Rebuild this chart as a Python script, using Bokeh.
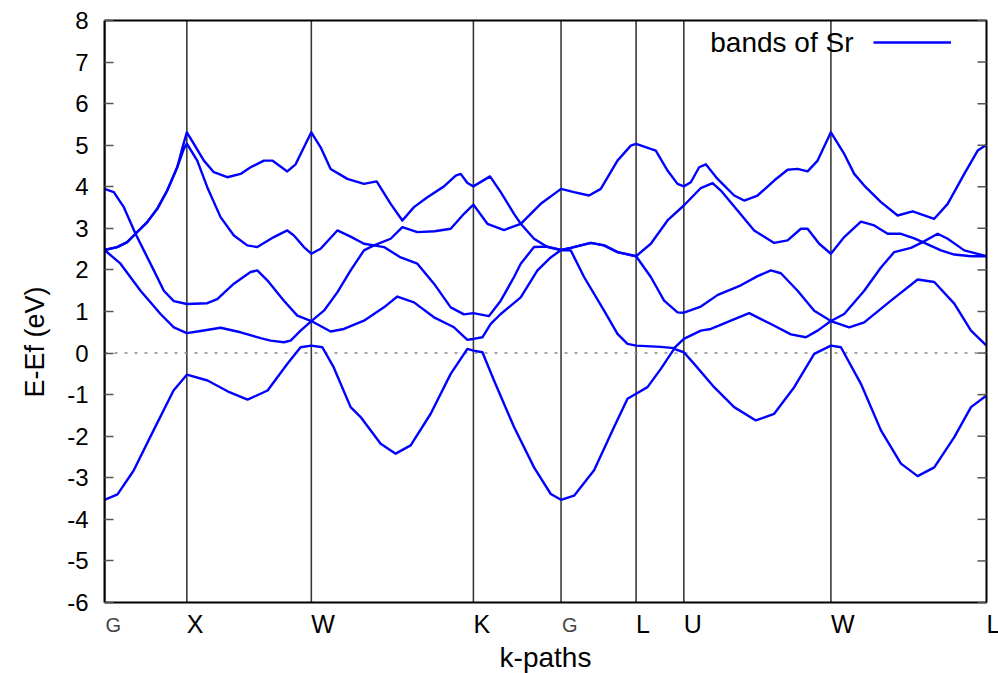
from bokeh.plotting import figure
from bokeh.models import (Label, Legend, LegendItem, FixedTicker, Range1d, Title,
                          ColumnDataSource)
from bokeh.embed import file_html
from bokeh.resources import INLINE

# ---------------- data ----------------
kpoint_labels = ["G", "X", "W", "K", "G", "L", "U", "W", "L"]
kpoint_pos = [0.0, 0.823, 2.067, 3.687, 4.563, 5.313, 5.790, 7.260, 8.815]
y_ticks = list(range(-6, 9))
y_min, y_max = -6, 8
fermi_level = 0.0

band1 = [(0, -3.53), (0.13, -3.40), (0.29, -2.83), (0.49, -1.86), (0.69, -0.90), (0.823, -0.52),
         (1.03, -0.66), (1.23, -0.92), (1.43, -1.12), (1.63, -0.90), (1.83, -0.25), (1.96, 0.14),
         (2.067, 0.18), (2.177, 0.14), (2.29, -0.34), (2.46, -1.30), (2.56, -1.54), (2.76, -2.18),
         (2.91, -2.42), (3.06, -2.22), (3.26, -1.46), (3.46, -0.50), (3.627, 0.10), (3.687, 0.06),
         (3.777, 0.02), (3.893, -0.66), (4.093, -1.78), (4.293, -2.75), (4.46, -3.39), (4.563, -3.53),
         (4.693, -3.43), (4.893, -2.82), (5.093, -1.78), (5.227, -1.10), (5.313, -0.98), (5.427, -0.82),
         (5.56, -0.38), (5.693, 0.10), (5.79, 0.02), (5.893, -0.26), (6.093, -0.82), (6.293, -1.30),
         (6.51, -1.62), (6.693, -1.46), (6.893, -0.82), (7.093, -0.02), (7.26, 0.18), (7.36, 0.14),
         (7.56, -0.74), (7.76, -1.86), (7.96, -2.66), (8.127, -2.96), (8.293, -2.75), (8.493, -2.02),
         (8.66, -1.30), (8.815, -1.02)]

band2 = [(0, 2.48), (0.16, 2.15), (0.36, 1.50), (0.56, 0.94), (0.693, 0.62), (0.823, 0.48),
         (0.96, 0.53), (1.16, 0.61), (1.36, 0.50), (1.56, 0.36), (1.66, 0.30), (1.793, 0.26),
         (1.86, 0.30), (1.96, 0.54), (2.067, 0.77), (2.26, 0.52), (2.393, 0.58), (2.593, 0.78),
         (2.793, 1.10), (2.927, 1.36), (3.093, 1.22), (3.293, 0.86), (3.493, 0.62), (3.627, 0.32),
         (3.687, 0.34), (3.777, 0.38), (3.86, 0.70), (3.96, 0.94), (4.16, 1.34), (4.327, 1.99),
         (4.46, 2.30), (4.563, 2.48), (4.66, 2.47), (4.793, 1.83), (4.993, 1.02), (5.127, 0.46),
         (5.227, 0.22), (5.313, 0.18), (5.56, 0.15), (5.693, 0.12), (5.79, 0.34), (5.96, 0.54),
         (6.06, 0.58), (6.26, 0.78), (6.443, 0.96), (6.66, 0.70), (6.86, 0.45), (7.01, 0.38),
         (7.127, 0.54), (7.26, 0.77), (7.443, 0.62), (7.593, 0.74), (7.86, 1.26), (8.127, 1.77),
         (8.293, 1.71), (8.493, 1.19), (8.66, 0.54), (8.815, 0.18)]

band3 = [(0, 2.48), (0.127, 2.55), (0.227, 2.67), (0.31, 2.87), (0.393, 2.47), (0.493, 1.99),
         (0.593, 1.50), (0.693, 1.25), (0.823, 1.18), (1.027, 1.20), (1.127, 1.30), (1.293, 1.67),
         (1.46, 1.95), (1.527, 1.99), (1.627, 1.75), (1.793, 1.26), (1.927, 0.90), (2.067, 0.77),
         (2.193, 1.02), (2.327, 1.46), (2.46, 1.99), (2.593, 2.47), (2.693, 2.59), (2.793, 2.55),
         (2.96, 2.30), (3.127, 2.15), (3.293, 1.67), (3.46, 1.10), (3.593, 0.93), (3.687, 0.96),
         (3.843, 0.89), (3.96, 1.26), (4.093, 1.83), (4.16, 2.15), (4.293, 2.55), (4.427, 2.56),
         (4.563, 2.48), (4.66, 2.53), (4.86, 2.65), (4.993, 2.59), (5.127, 2.43), (5.313, 2.33),
         (5.46, 1.83), (5.593, 1.26), (5.727, 0.98), (5.79, 0.97), (5.96, 1.12), (6.13, 1.40),
         (6.36, 1.63), (6.527, 1.85), (6.66, 1.99), (6.76, 1.92), (6.927, 1.50), (7.093, 1.02),
         (7.26, 0.77), (7.393, 0.94), (7.593, 1.50), (7.76, 2.06), (7.893, 2.43), (8.06, 2.53),
         (8.177, 2.67), (8.36, 2.47), (8.493, 2.37), (8.66, 2.33), (8.815, 2.33)]

band4 = [(0, 2.48), (0.127, 2.55), (0.227, 2.67), (0.31, 2.87), (0.427, 3.15), (0.527, 3.47),
         (0.627, 3.91), (0.727, 4.47), (0.793, 4.91), (0.823, 5.04), (0.927, 4.63), (1.027, 3.99),
         (1.16, 3.27), (1.293, 2.83), (1.427, 2.59), (1.527, 2.55), (1.693, 2.79), (1.827, 2.95),
         (1.893, 2.83), (1.993, 2.55), (2.067, 2.39), (2.16, 2.51), (2.327, 2.95), (2.46, 2.80),
         (2.593, 2.63), (2.693, 2.59), (2.86, 2.75), (2.977, 3.03), (3.127, 2.91), (3.30, 2.93),
         (3.46, 2.99), (3.593, 3.35), (3.687, 3.57), (3.827, 3.11), (3.993, 2.96), (4.16, 3.11),
         (4.293, 2.75), (4.427, 2.55), (4.563, 2.48), (4.66, 2.53), (4.86, 2.65), (4.993, 2.59),
         (5.127, 2.43), (5.313, 2.33), (5.46, 2.63), (5.627, 3.19), (5.79, 3.55), (5.96, 3.97),
         (6.077, 4.09), (6.16, 3.91), (6.327, 3.43), (6.493, 2.95), (6.693, 2.65), (6.827, 2.71),
         (6.96, 2.99), (7.027, 2.99), (7.143, 2.63), (7.26, 2.39), (7.393, 2.79), (7.56, 3.16),
         (7.693, 3.07), (7.827, 2.87), (7.96, 2.87), (8.093, 2.76), (8.177, 2.67), (8.327, 2.87),
         (8.427, 2.75), (8.593, 2.47), (8.815, 2.33)]

band5 = [(0, 3.95), (0.093, 3.87), (0.193, 3.51), (0.31, 2.87), (0.427, 3.15), (0.527, 3.47),
         (0.627, 3.91), (0.727, 4.47), (0.78, 4.95), (0.823, 5.31), (0.893, 5.03), (0.993, 4.63),
         (1.093, 4.35), (1.227, 4.23), (1.36, 4.31), (1.46, 4.47), (1.593, 4.63), (1.677, 4.63),
         (1.827, 4.37), (1.91, 4.54), (2.067, 5.31), (2.16, 4.95), (2.26, 4.43), (2.427, 4.19),
         (2.593, 4.07), (2.72, 4.13), (2.86, 3.59), (2.977, 3.19), (3.093, 3.51), (3.227, 3.75),
         (3.393, 4.01), (3.51, 4.27), (3.56, 4.31), (3.627, 4.09), (3.687, 4.01), (3.853, 4.25),
         (3.96, 3.87), (4.093, 3.35), (4.16, 3.11), (4.36, 3.59), (4.563, 3.95), (4.693, 3.87),
         (4.843, 3.79), (4.96, 3.95), (5.127, 4.63), (5.26, 4.99), (5.313, 5.03), (5.51, 4.87),
         (5.627, 4.39), (5.727, 4.07), (5.79, 4.01), (5.86, 4.11), (5.943, 4.47), (6.01, 4.54),
         (6.127, 4.19), (6.293, 3.79), (6.393, 3.67), (6.527, 3.79), (6.693, 4.15), (6.827, 4.41),
         (6.927, 4.43), (7.027, 4.37), (7.127, 4.63), (7.26, 5.31), (7.393, 4.79), (7.493, 4.31),
         (7.593, 4.03), (7.76, 3.63), (7.927, 3.31), (8.077, 3.41), (8.293, 3.23), (8.427, 3.59),
         (8.593, 4.31), (8.727, 4.87), (8.815, 5.01)]

bands = [band1, band2, band3, band4, band5]
legend_text = "bands of Sr"
x_title = "k-paths"
y_title = "E-Ef (eV)"

# ---------------- layout (pixels) ----------------
FONT = "Liberation Sans"
W, H = 998, 673
BOX_L, BOX_R, BOX_T, BOX_B = 104, 986, 20, 602   # the plot box as in the reference
FRAME_T = 10                                      # frame extends beyond the box so that
                                                  # labels under it are not clipped
ppu_x = (BOX_R - BOX_L) / (kpoint_pos[-1] - kpoint_pos[0])
ppu_y = (BOX_B - BOX_T) / (y_max - y_min)
x_lo = kpoint_pos[0]
x_hi = kpoint_pos[0] + (W - BOX_L) / ppu_x
y_lo = y_min - (H - BOX_B) / ppu_y
y_hi = y_max + (BOX_T - FRAME_T) / ppu_y

p = figure(width=W, height=H, x_range=Range1d(x_lo, x_hi), y_range=Range1d(y_lo, y_hi),
           output_backend="svg", toolbar_location=None, x_axis_location=None,
           min_border_left=BOX_L, min_border_right=0, min_border_top=FRAME_T,
           min_border_bottom=0)
p.grid.visible = False
p.outline_line_color = None
p.background_fill_color = "white"
p.border_fill_color = "white"

# left axis (line limited to the box)
p.yaxis.ticker = FixedTicker(ticks=y_ticks)
p.yaxis.bounds = (y_min, y_max)
p.yaxis.major_label_overrides = {t: str(t) for t in y_ticks}
p.yaxis.major_tick_in = 9
p.yaxis.major_tick_out = 0
p.yaxis.minor_tick_in = 0
p.yaxis.minor_tick_out = 0
p.yaxis.major_tick_line_color = "#555555"
p.yaxis.major_tick_line_width = 1.5
p.yaxis.axis_line_color = "black"
p.yaxis.axis_line_width = 2
p.yaxis.major_label_text_font = FONT
p.yaxis.major_label_text_font_size = "24px"
p.yaxis.major_label_text_color = "black"
p.yaxis.major_label_standoff = 16

# y title, centred on the box rather than on the (taller) frame
frame_mid = (FRAME_T + H) / 2
box_mid = (BOX_T + BOX_B) / 2
p.add_layout(Title(text=y_title, align="center", offset=box_mid - frame_mid,
                   text_font=FONT, text_font_size="27px", text_font_style="normal",
                   text_color="black", standoff=29), "left")

# high-symmetry vertical lines
inner_k = kpoint_pos[1:-1]
p.segment(x0=inner_k, y0=[y_min] * len(inner_k), x1=inner_k, y1=[y_max] * len(inner_k),
          line_color="#3a3a3a", line_width=1.6)

# Fermi level
p.segment(x0=[kpoint_pos[0]], y0=[fermi_level], x1=[kpoint_pos[-1]], y1=[fermi_level],
          line_color="#888888", line_width=1.5, line_dash="3 7")

# bands
renderers = []
for b in bands:
    ks = [pt[0] for pt in b]
    es = [pt[1] for pt in b]
    renderers.append(p.line(ks, es, line_color="#0000ff", line_width=2.4, line_join="round"))

# box and mirrored ticks on the right side
p.quad(left=[kpoint_pos[0]], right=[kpoint_pos[-1]], bottom=[y_min], top=[y_max],
       fill_color=None, line_color="black", line_width=2)
tick_len = 9 / ppu_x
p.segment(x0=[kpoint_pos[-1]] * len(y_ticks), y0=y_ticks,
          x1=[kpoint_pos[-1] - tick_len] * len(y_ticks), y1=y_ticks,
          line_color="#555555", line_width=1.5)

# k-point labels (left aligned at each line, like gnuplot) and x title
is_gamma = [lab == "G" for lab in kpoint_labels]
label_y = y_min - (623.5 - BOX_B) / ppu_y
title_y = y_min - (657.0 - BOX_B) / ppu_y
main_src = ColumnDataSource(dict(
    k=[k for k, g in zip(kpoint_pos, is_gamma) if not g],
    t=[l for l, g in zip(kpoint_labels, is_gamma) if not g]))
gam_src = ColumnDataSource(dict(
    k=[k for k, g in zip(kpoint_pos, is_gamma) if g],
    t=[l for l, g in zip(kpoint_labels, is_gamma) if g]))
p.text(x="k", y=label_y, text="t", source=main_src, x_offset=0, text_align="left",
       text_baseline="middle", text_font={"value": FONT}, text_font_size="25px",
       text_color="black")
p.text(x="k", y=label_y - 1 / ppu_y, text="t", source=gam_src, x_offset=1, text_align="left",
       text_baseline="middle", text_font={"value": FONT}, text_font_size="20px",
       text_color="#444444")
p.text(x=[(kpoint_pos[0] + kpoint_pos[-1]) / 2], y=[title_y], text=[x_title],
       text_align="center", text_baseline="middle", text_font={"value": FONT},
       text_font_size="28px", text_color="black")

# legend: gnuplot style, text to the left of the sample line
glyph_x0, glyph_w, leg_cy = 873, 78, 42
legend = Legend(items=[LegendItem(label="", renderers=[renderers[0]])],
                location=(glyph_x0 - BOX_L, H - (leg_cy + 20)), glyph_width=glyph_w,
                glyph_height=40, label_height=40, label_width=0, label_standoff=0,
                padding=0, margin=0, spacing=0, border_line_color=None,
                background_fill_alpha=0, label_text_font_size="27px")
p.add_layout(legend)
p.add_layout(Label(x=glyph_x0 - 20 - BOX_L, y=H - leg_cy, x_units="screen", y_units="screen",
                   text=legend_text, text_align="right", text_baseline="middle",
                   text_font=FONT, text_font_size="28px", text_color="black"))

open("out.html", "w").write(file_html(p, INLINE))
